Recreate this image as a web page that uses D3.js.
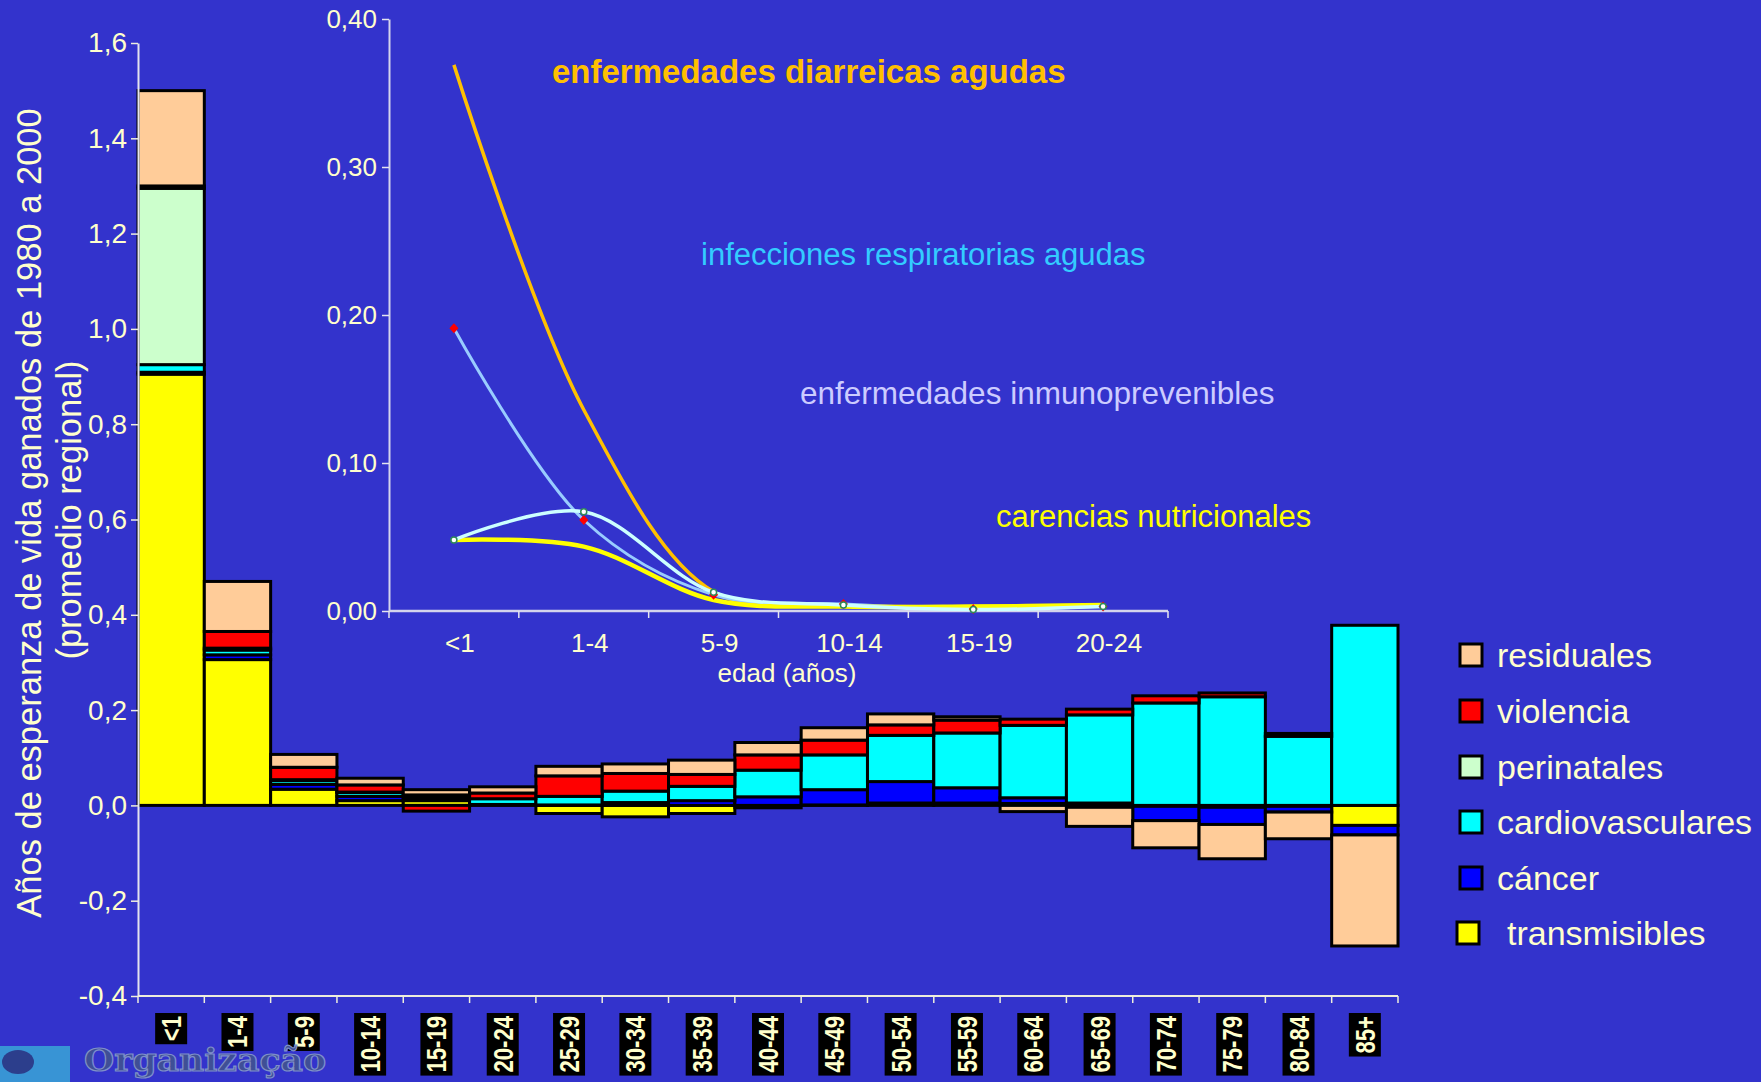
<!DOCTYPE html>
<html>
<head>
<meta charset="utf-8">
<script src="https://cdn.jsdelivr.net/npm/d3@7"></script>
<style>
  body { margin: 0; background: #3333cc; }
  svg { display: block; font-family: "Liberation Sans", Arial, sans-serif; }
</style>
</head>
<body>
<svg id="chart" width="1761" height="1082"></svg>
<script>
// ---- main chart data: years of life expectancy gained 1980-2000, by age and cause
var ages = ["<1","1-4","5-9","10-14","15-19","20-24","25-29","30-34","35-39","40-44",
            "45-49","50-54","55-59","60-64","65-69","70-74","75-79","80-84","85+"];
var causes = ["transmisibles","cáncer","cardiovasculares","perinatales","violencia","residuales"];
var causeColors = ["#ffff00","#0000ff","#00ffff","#ccffcc","#ff0000","#ffcc99"];

var transmisibles    = [0.905,0.306,0.034,0.010,0.010,0.001,-0.017,-0.024,-0.017,-0.005,0.001,0.005,0.005,0.004,-0.004,-0.002,-0.004,-0.002,-0.042];
var cancer           = [0.004,0.010,0.010,0.009,0.005,0.001,0.001,0.006,0.010,0.018,0.032,0.045,0.032,0.012,0.005,-0.030,-0.036,-0.012,-0.020];
var cardiovasculares = [0.016,0.010,0.008,0.008,0.006,0.012,0.018,0.024,0.030,0.056,0.073,0.097,0.115,0.152,0.185,0.215,0.228,0.145,0.378];
var perinatales      = [0.370,0.004,0.002,0.001,0.001,0,0,0,0,0,0,0,0,0,0,0,0,0,0];
var violencia        = [0.005,0.035,0.026,0.015,-0.012,0.012,0.043,0.037,0.025,0.032,0.031,0.022,0.027,0.013,0.012,0.015,0.008,0.006,0];
var residuales       = [0.200,0.105,0.027,0.014,0.011,0.013,0.020,0.020,0.030,0.026,0.026,0.023,0.007,-0.013,-0.040,-0.057,-0.072,-0.056,-0.233];

var yTicks = [-0.4,-0.2,0,0.2,0.4,0.6,0.8,1.0,1.2,1.4,1.6];

// legend order, top to bottom
var legendOrder = ["residuales","violencia","perinatales","cardiovasculares","cáncer","transmisibles"];

// ---- inset data: by age group, first six groups
var insetAges = ["<1","1-4","5-9","10-14","15-19","20-24"];
var diarreicas   = [0.369,0.136,0.013,0.004,0.003,0.004];
var respiratorias= [0.191,0.0615,0.011,0.0047,0.0013,0.003];
var inmuno       = [0.048,0.067,0.0126,0.004,0.001,0.003];
var carencias    = [0.048,0.0435,0.0074,0.003,0.003,0.004];
var insetTicks = [0,0.1,0.2,0.3,0.4];

var cream = "#ffffcc";
var svg = d3.select("#chart");

function comma(d, n) {
  var s = Math.abs(d).toFixed(n).replace(".", ",");
  return (d < -1e-9 ? "-" : "") + s;
}

// ================= main stacked chart =================
var x = d3.scaleBand().domain(ages).range([138, 1398]).padding(0);
var y = d3.scaleLinear().domain([-0.4, 1.6]).range([996, 43]);

var rows = ages.map(function(a, i) {
  return {age: a, "transmisibles": transmisibles[i], "cáncer": cancer[i],
          "cardiovasculares": cardiovasculares[i], "perinatales": perinatales[i],
          "violencia": violencia[i], "residuales": residuales[i]};
});
var color = d3.scaleOrdinal().domain(causes).range(causeColors);

var series = d3.stack().keys(causes).offset(d3.stackOffsetDiverging)(rows);

svg.append("g")
  .selectAll("g")
  .data(series)
  .enter().append("g")
    .attr("fill", function(s) { return color(s.key); })
  .selectAll("rect")
  .data(function(s) { return s; })
  .enter().append("rect")
    .attr("x", function(d) { return x(d.data.age); })
    .attr("width", x.bandwidth())
    .attr("y", function(d) { return y(d[1]); })
    .attr("height", function(d) { return y(d[0]) - y(d[1]); })
    .attr("stroke", "#000")
    .attr("stroke-width", 3);

// y axis
var yAxisG = svg.append("g").attr("transform", "translate(138,0)");
yAxisG.call(d3.axisLeft(y).tickValues(d3.range(-0.4, 1.61, 0.1)).tickSize(4).tickSizeOuter(0).tickFormat(""));
yAxisG.call(d3.axisLeft(y).tickValues(yTicks).tickSize(7).tickSizeOuter(0)
  .tickFormat(function(d) { return comma(d, 1); }));
yAxisG.selectAll(".domain").attr("stroke", "#e4e4ee").attr("stroke-width", 2);
yAxisG.selectAll("line").attr("stroke", "#eeeedd").attr("stroke-width", 1.5);
yAxisG.selectAll("text")
  .attr("fill", cream).attr("font-size", 28).attr("x", -11)
  .attr("font-family", "Liberation Sans, Arial, sans-serif");

// x axis (ticks at band boundaries)
var bounds = ages.map(function(a) { return x(a); }).concat([x.range()[1]]);
var xAxisG = svg.append("g");
xAxisG.append("line")
  .attr("x1", x.range()[0]).attr("x2", x.range()[1])
  .attr("y1", y(-0.4)).attr("y2", y(-0.4))
  .attr("stroke", "#eeeedd").attr("stroke-width", 2);
xAxisG.selectAll("line.tk").data(bounds).enter().append("line")
  .attr("class", "tk")
  .attr("x1", function(d) { return d; }).attr("x2", function(d) { return d; })
  .attr("y1", y(-0.4)).attr("y2", y(-0.4) + 7)
  .attr("stroke", "#eeeedd").attr("stroke-width", 1.5);

// rotated age labels on black boxes
var lab = svg.append("g").selectAll("g").data(ages).enter().append("g");
lab.each(function(a) {
  var g = d3.select(this);
  var cx = x(a) + x.bandwidth() / 2;
  var rect = g.append("rect").attr("fill", "#000");
  var t = g.append("text")
    .attr("transform", "translate(" + (cx + 10) + ",1016) rotate(-90) scale(0.82,1)")
    .attr("text-anchor", "end")
    .attr("font-size", 27).attr("font-weight", "bold")
    .attr("fill", cream)
    .text(a);
  var len = t.node().getComputedTextLength() * 0.82;
  rect.attr("x", cx - 16).attr("y", 1013).attr("width", 32).attr("height", len + 6);
});

// y axis title
var ttl = svg.append("g").attr("fill", cream).attr("font-size", 34.5).attr("text-anchor", "middle");
ttl.append("text").attr("transform", "translate(41,513) rotate(-90)")
  .text("Años de esperanza de vida ganados de 1980 a 2000");
ttl.append("text").attr("transform", "translate(81,510) rotate(-90)")
  .text("(promedio regional)");

// legend
var legY = [655, 711, 767, 822, 878, 933];
var leg = svg.append("g").selectAll("g").data(legendOrder).enter().append("g")
  .attr("transform", function(d, i) { return "translate(0," + legY[i] + ")"; });
leg.append("rect")
  .attr("x", function(d) { return d === "transmisibles" ? 1457 : 1460; })
  .attr("y", -11).attr("width", 22).attr("height", 22)
  .attr("fill", function(d) { return color(d); })
  .attr("stroke", "#000").attr("stroke-width", 3);
leg.append("text")
  .attr("x", function(d) { return d === "transmisibles" ? 1507 : 1497; })
  .attr("y", 12)
  .attr("font-size", 34).attr("fill", cream)
  .text(function(d) { return d; });

// ================= inset line chart =================
var xi = d3.scaleBand().domain(insetAges).range([389, 1168]).padding(0);
var yi = d3.scaleLinear().domain([0, 0.4]).range([611, 19]);

var yiG = svg.append("g").attr("transform", "translate(389,0)");
yiG.call(d3.axisLeft(yi).tickValues(d3.range(0, 0.401, 0.02)).tickSize(5).tickSizeOuter(0).tickFormat(""));
yiG.call(d3.axisLeft(yi).tickValues(insetTicks).tickSize(7).tickSizeOuter(0)
  .tickFormat(function(d) { return comma(d, 2); }));
yiG.selectAll(".domain").attr("stroke", "#d4d4ec").attr("stroke-width", 2);
yiG.selectAll("line").attr("stroke", "#e4e4ee").attr("stroke-width", 1.5);
yiG.selectAll("text").attr("fill", cream).attr("font-size", 26).attr("x", -12)
  .attr("font-family", "Liberation Sans, Arial, sans-serif");

var xiG = svg.append("g");
xiG.append("line").attr("x1", 389).attr("x2", 1168).attr("y1", 611).attr("y2", 611)
  .attr("stroke", "#d4d4ec").attr("stroke-width", 2.5);
var ibounds = insetAges.map(function(a) { return xi(a); }).concat([xi.range()[1]]);
xiG.selectAll("line.tk").data(ibounds).enter().append("line").attr("class", "tk")
  .attr("x1", function(d) { return d; }).attr("x2", function(d) { return d; })
  .attr("y1", 611).attr("y2", 618).attr("stroke", "#e4e4ee").attr("stroke-width", 1.5);
xiG.selectAll("text.lb").data(insetAges).enter().append("text").attr("class", "lb")
  .attr("x", function(d) { return xi(d) + xi.bandwidth() / 2 + 6; })
  .attr("y", 652).attr("text-anchor", "middle")
  .attr("font-size", 26).attr("fill", cream)
  .text(function(d) { return d; });
xiG.append("text").attr("x", 787).attr("y", 682).attr("text-anchor", "middle")
  .attr("font-size", 26).attr("fill", cream).text("edad (años)");

var line = d3.line()
  .x(function(d, i) { return xi(insetAges[i]) + xi.bandwidth() / 2; })
  .y(function(d) { return yi(d); })
  .curve(d3.curveCatmullRom.alpha(0.5));

var lines = [
  {v: diarreicas,    c: "#ffc000", w: 3.5},
  {v: respiratorias, c: "#99ccff", w: 3},
  {v: carencias,     c: "#ffff00", w: 4.5},
  {v: inmuno,        c: "#ccffff", w: 3.5}
];
svg.append("g").selectAll("path").data(lines).enter().append("path")
  .attr("d", function(d) { return line(d.v); })
  .attr("fill", "none")
  .attr("stroke", function(d) { return d.c; })
  .attr("stroke-width", function(d) { return d.w; });

// markers
svg.append("g").selectAll("path").data(respiratorias).enter().append("path")
  .attr("d", d3.symbol().type(d3.symbolDiamond).size(36))
  .attr("transform", function(d, i) {
    return "translate(" + (xi(insetAges[i]) + xi.bandwidth() / 2) + "," + yi(d) + ") scale(1.4,0.9)";
  })
  .attr("fill", "#ff0000");
svg.append("g").selectAll("circle").data(inmuno).enter().append("circle")
  .attr("cx", function(d, i) { return xi(insetAges[i]) + xi.bandwidth() / 2; })
  .attr("cy", function(d) { return yi(d); })
  .attr("r", 3)
  .attr("fill", "#ffffff").attr("stroke", "#2e8b57").attr("stroke-width", 1.5);

// series labels
var notes = svg.append("g");
notes.append("text").attr("x", 552).attr("y", 83)
  .attr("font-size", 33).attr("font-weight", "bold").attr("fill", "#ffc000")
  .text("enfermedades diarreicas agudas");
notes.append("text").attr("x", 701).attr("y", 265)
  .attr("font-size", 31).attr("fill", "#33ccff")
  .text("infecciones respiratorias agudas");
notes.append("text").attr("x", 800).attr("y", 404)
  .attr("font-size", 31.5).attr("fill", "#ccccff")
  .text("enfermedades inmunoprevenibles");
notes.append("text").attr("x", 996).attr("y", 527)
  .attr("font-size", 31).attr("fill", "#ffff00")
  .text("carencias nutricionales");

// faded organisation logo, bottom left
var logo = svg.append("g");
logo.append("rect").attr("x", 0).attr("y", 1046).attr("width", 70).attr("height", 36)
  .attr("fill", "#3aa6d6").attr("opacity", 0.85);
logo.append("ellipse").attr("cx", 18).attr("cy", 1062).attr("rx", 16).attr("ry", 12)
  .attr("fill", "#2c3e8c");
logo.append("text").attr("x", 84).attr("y", 1071)
  .attr("font-family", "DejaVu Serif, serif").attr("font-weight", "bold")
  .attr("font-size", 32).attr("fill", "#3f4f96").attr("stroke", "#7f90c8").attr("stroke-width", 1.2)
  .attr("textLength", 242).attr("lengthAdjust", "spacingAndGlyphs")
  .text("Organização");
</script>
</body>
</html>
